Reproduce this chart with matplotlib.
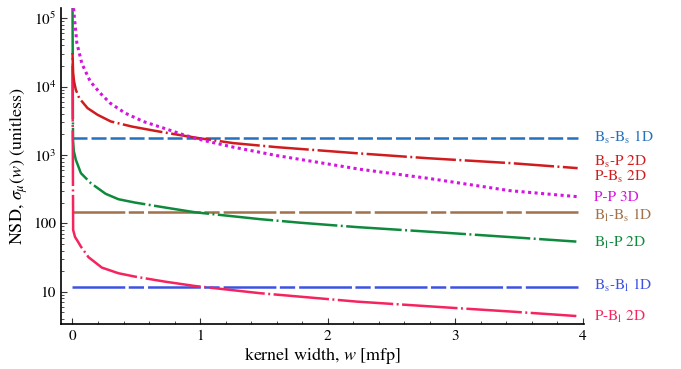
import numpy as np
import matplotlib
matplotlib.use('Agg')
import matplotlib.pyplot as plt
from matplotlib import ticker

plt.rcParams['font.family'] = 'STIXGeneral'
plt.rcParams['mathtext.fontset'] = 'stix'
plt.rcParams['lines.scale_dashes'] = False

# curves (kernel width w [mfp], NSD)
w_bsp = [0.0, 0.005, 0.012, 0.026, 0.053, 0.118, 0.196, 0.3, 0.466, 0.648, 0.83, 0.99,
         1.26, 1.6, 2.255, 2.78, 3.43, 3.96]
nsd_bsp = [31000, 16000, 12000, 8980, 6760, 4840, 3870, 3090, 2600, 2250, 1970, 1760,
           1490, 1300, 1050, 897, 760, 641]

w_pp = [0.008, 0.034, 0.074, 0.139, 0.217, 0.295, 0.413, 0.556, 0.713, 0.87, 1.027,
        1.26, 1.6, 2.255, 2.78, 3.43, 3.96]
nsd_pp = [140000, 43500, 21600, 11900, 8030, 5730, 4090, 3080, 2470, 1970, 1630,
          1300, 980, 617, 457, 300, 245]

w_blp = [0.0, 0.004, 0.01, 0.026, 0.066, 0.144, 0.26, 0.36, 0.49, 0.727, 0.96,
         1.47, 1.785, 2.23, 2.91, 3.45, 3.95]
nsd_blp = [200000, 1660, 1150, 850, 541, 386, 270, 225, 201, 170, 145,
           115, 102, 88, 73, 62.5, 54]

w_pbl = [0.0, 0.005, 0.02, 0.04, 0.066, 0.125, 0.23, 0.36, 0.49, 0.727, 0.96,
         1.47, 1.785, 2.23, 2.96, 3.45, 3.95]
nsd_pbl = [20000, 80, 63, 55, 45.6, 32, 22.5, 18.6, 16.6, 14, 12.1,
           9.5, 8.45, 7.15, 5.83, 5.1, 4.4]

# 1D results are constant in w
w_flat = [0.0, 3.96]
nsd_bsbs = 1780
nsd_blbs = 145
nsd_bsbl = 11.8

labels = ['B$_\\mathrm{s}$-B$_\\mathrm{s}$ 1D', 'B$_\\mathrm{s}$-P 2D', 'P-B$_\\mathrm{s}$ 2D',
          'P-P 3D', 'B$_\\mathrm{l}$-B$_\\mathrm{s}$ 1D', 'B$_\\mathrm{l}$-P 2D',
          'B$_\\mathrm{s}$-B$_\\mathrm{l}$ 1D', 'P-B$_\\mathrm{l}$ 2D']
label_y = [1780, 800, 483, 238, 130, 52, 12.2, 4.3]
label_colors = ['#2470bd', '#d01c1f', '#d01c1f', '#d414e0', '#a0714a', '#0f8a3c',
                '#3d52e3', '#f5245e']

fig = plt.figure(figsize=(6.81, 3.69), dpi=100)
ax = fig.add_axes([0.0896, 0.1211, 0.768, 0.8572])

lw = 1.8
longshort = (0, (38, 2.5, 11, 2.9))
ax.plot(w_flat, [nsd_bsbs] * 2, color='#2470bd', lw=lw, ls=(0, (10.8, 2.9)))
ax.plot(w_flat, [nsd_blbs] * 2, color='#a0714a', lw=lw, ls=longshort)
ax.plot(w_flat, [nsd_bsbl] * 2, color='#3d52e3', lw=lw, ls=longshort)
ax.plot(w_blp, nsd_blp, color='#0f8a3c', lw=lw, ls=(0, (40, 2.5, 1.4, 2.5)))
ax.plot(w_pbl, nsd_pbl, color='#f5245e', lw=lw, ls=(0, (40, 2.5, 1.4, 2.5)))
ax.plot(w_bsp, nsd_bsp, color='#d01c1f', lw=lw, ls=(0, (29, 2.5, 1.4, 2.5)))
ax.plot(w_pp, nsd_pp, color='#d414e0', lw=2.2, ls=(0, (2.2, 2.5)))

ax.set_yscale('log')
ax.set_xlim(-0.09, 4.01)
ax.set_ylim(3.33, 1.41e5)

ax.set_xticks([0, 1, 2, 3, 4])
ax.xaxis.set_minor_locator(ticker.MultipleLocator(0.2))
ax.set_yticks([10, 100, 1e3, 1e4, 1e5])
ax.set_yticklabels(['10', '100', '$10^3$', '$10^4$', '$10^5$'])
ax.yaxis.set_minor_locator(ticker.LogLocator(base=10, subs=np.arange(2, 10)))
ax.yaxis.set_minor_formatter(ticker.NullFormatter())
ax.tick_params(which='both', direction='in', labelsize=11, color='#333333')
ax.tick_params(which='major', length=4)
ax.tick_params(which='minor', length=2)

for side in ['top', 'right']:
    ax.spines[side].set_visible(False)
for side in ['left', 'bottom']:
    ax.spines[side].set_linewidth(1.2)

ax.set_xlabel('kernel width, $w$ [mfp]', fontsize=13, labelpad=2)
ax.set_ylabel('NSD, $\\sigma_\\mu(w)$ (unitless)', fontsize=13, labelpad=2)

for txt, yv, c in zip(labels, label_y, label_colors):
    ax.text(1.02, yv, txt, color=c, fontsize=11, va='center', ha='left',
            transform=ax.get_yaxis_transform())

fig.savefig('out.png', dpi=100)
